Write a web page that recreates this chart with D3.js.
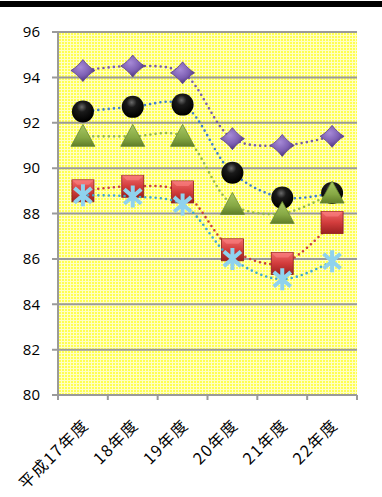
<!DOCTYPE html>
<html>
<head>
<meta charset="utf-8">
<script src="https://cdn.jsdelivr.net/npm/d3@7"></script>
<style>
  body { margin: 0; background: #fff; }
  svg { display: block; }
</style>
</head>
<body>
<div id="chart"></div>
<script>
// Line chart, 5 series with 3D-ish markers on a yellow grid background

const years = ["平成17年度", "18年度", "19年度", "20年度", "21年度", "22年度"];
const yTicks = [80, 82, 84, 86, 88, 90, 92, 94, 96];

const purple = [94.3, 94.5, 94.2, 91.3, 91.0, 91.4];
const black = [92.5, 92.7, 92.8, 89.8, 88.7, 88.9];
const green = [91.4, 91.4, 91.4, 88.4, 88.0, 88.9];
const red = [89.0, 89.2, 88.95, 86.4, 85.8, 87.6];
const cyan = [88.8, 88.75, 88.4, 86.0, 85.1, 85.9];

const series = [
  { name: "purple", values: purple, line: "#7a5ca8", marker: "diamond" },
  { name: "black", values: black, line: "#3f7fcf", marker: "circle" },
  { name: "green", values: green, line: "#94b84f", marker: "triangle" },
  { name: "red", values: red, line: "#c9403f", marker: "square" },
  { name: "cyan", values: cyan, line: "#40a9cf", marker: "star" }
];

const W = 382, H = 497;
const margin = { top: 32, right: 25, bottom: 102, left: 58 };

const svg = d3.select("#chart").append("svg")
  .attr("width", W)
  .attr("height", H);

// top black rule
svg.append("rect")
  .attr("x", 0).attr("y", 1)
  .attr("width", W).attr("height", 6)
  .attr("fill", "#000");

const defs = svg.append("defs");

// yellow graph-paper pattern
const pat = defs.append("pattern")
  .attr("id", "paper")
  .attr("width", 3).attr("height", 3)
  .attr("patternUnits", "userSpaceOnUse");
pat.append("rect").attr("width", 3).attr("height", 3).attr("fill", "#ffff50");
pat.append("rect").attr("width", 3).attr("height", 1).attr("fill", "#ffffc4");
pat.append("rect").attr("width", 1).attr("height", 3).attr("fill", "#ffffc4");

function linGrad(id, stops, x2 = 0, y2 = 1) {
  const g = defs.append("linearGradient").attr("id", id)
    .attr("x1", 0).attr("y1", 0).attr("x2", x2).attr("y2", y2);
  stops.forEach(([o, c]) => g.append("stop").attr("offset", o).attr("stop-color", c));
}
function radGrad(id, stops, cx = 0.4, cy = 0.35) {
  const g = defs.append("radialGradient").attr("id", id)
    .attr("cx", cx).attr("cy", cy).attr("r", 0.65);
  stops.forEach(([o, c]) => g.append("stop").attr("offset", o).attr("stop-color", c));
}
radGrad("gPurple", [[0, "#a68ad6"], [0.6, "#7d5fb3"], [1, "#4e3480"]]);
radGrad("gBlack", [[0, "#6a6a6a"], [0.35, "#1a1a1a"], [1, "#000"]], 0.45, 0.3);
linGrad("gGreen", [[0, "#a8c865"], [0.6, "#86a844"], [1, "#5f7d28"]]);
linGrad("gRed", [[0, "#f06a6a"], [0.5, "#d23c3c"], [1, "#9a2020"]]);

const w = W - margin.left - margin.right;
const h = H - margin.top - margin.bottom;

const plot = svg.append("g")
  .attr("transform", `translate(${margin.left},${margin.top})`);

const x = d3.scaleBand().domain(years).range([0, w]);
const y = d3.scaleLinear().domain([80, 96]).range([h, 0]);

plot.append("rect")
  .attr("width", w).attr("height", h)
  .attr("fill", "url(#paper)");

// gridlines
plot.selectAll(".grid")
  .data(yTicks)
  .join("line")
  .attr("class", "grid")
  .attr("x1", -6).attr("x2", w)
  .attr("y1", d => y(d)).attr("y2", d => y(d))
  .attr("stroke", "#9a9a9a")
  .attr("stroke-width", 2);

// y axis line
plot.append("line")
  .attr("x1", 0).attr("x2", 0)
  .attr("y1", 0).attr("y2", h)
  .attr("stroke", "#9a9a9a").attr("stroke-width", 2);

// x axis ticks
const xTicks = d3.range(years.length + 1).map(i => i * x.bandwidth());
plot.selectAll(".xtick")
  .data(xTicks)
  .join("line")
  .attr("class", "xtick")
  .attr("x1", d => d).attr("x2", d => d)
  .attr("y1", h).attr("y2", h + 5)
  .attr("stroke", "#9a9a9a").attr("stroke-width", 2);

// y labels
plot.selectAll(".ylab")
  .data(yTicks)
  .join("text")
  .attr("class", "ylab")
  .attr("x", -18)
  .attr("y", d => y(d))
  .attr("dy", "0.35em")
  .attr("text-anchor", "end")
  .style("font-family", "'Open Sans', 'Liberation Sans', sans-serif")
  .style("font-size", "15px")
  .text(d => d);

// x labels, rotated
plot.selectAll(".xlab")
  .data(years)
  .join("text")
  .attr("class", "xlab")
  .attr("text-anchor", "end")
  .attr("transform", d => `translate(${x(d) + x.bandwidth() / 2 + 7},${h + 31}) rotate(-45)`)
  .style("font-family", "'Noto Sans CJK JP', sans-serif")
  .style("font-size", "16px")
  .style("letter-spacing", "1.5px")
  .text(d => d);

const line = d3.line()
  .x((d, i) => x(years[i]) + x.bandwidth() / 2)
  .y(d => y(d))
  .curve(d3.curveCatmullRom.alpha(0.5));

function drawMarker(g, type) {
  if (type === "diamond") {
    g.append("path")
      .attr("d", "M0,-11 C4,-6 7,-3 12,0 C7,3 4,6 0,11 C-4,6 -7,3 -12,0 C-7,-3 -4,-6 0,-11Z")
      .attr("fill", "url(#gPurple)")
      .attr("stroke", "#5a3f8c").attr("stroke-width", 0.8);
  } else if (type === "circle") {
    g.append("circle").attr("r", 11)
      .attr("fill", "url(#gBlack)");
  } else if (type === "triangle") {
    g.append("path")
      .attr("d", "M0,-12 L12,10 L-12,10Z")
      .attr("fill", "url(#gGreen)")
      .attr("stroke", "#6a8a30").attr("stroke-width", 0.8)
      .attr("stroke-linejoin", "round");
  } else if (type === "square") {
    g.append("rect")
      .attr("x", -11).attr("y", -11)
      .attr("width", 22).attr("height", 22)
      .attr("fill", "url(#gRed)")
      .attr("stroke", "#8c1c1c").attr("stroke-width", 0.8);
    g.append("path")
      .attr("d", "M-11,-11 L11,-11 L6,-6 L-6,-6Z")
      .attr("fill", "#ff8a8a").attr("opacity", 0.5);
  } else if (type === "star") {
    g.append("path")
      .attr("d", "M0,-9 L0,9 M-7,-6 L7,6 M-7,6 L7,-6")
      .attr("stroke", "#8fd2ee")
      .attr("stroke-width", 4)
      .attr("stroke-linecap", "square")
      .attr("fill", "none");
  }
}

series.forEach(s => {
  const g = plot.append("g").attr("class", "series-" + s.name);

  g.append("path")
    .datum(s.values)
    .attr("d", line)
    .attr("fill", "none")
    .attr("stroke", s.line)
    .attr("stroke-width", 2.6)
    .attr("stroke-linecap", "round")
    .attr("stroke-dasharray", "0,5.2");

  g.selectAll(".mk")
    .data(s.values)
    .join("g")
    .attr("class", "mk")
    .attr("transform", (d, i) => `translate(${x(years[i]) + x.bandwidth() / 2},${y(d)})`)
    .each(function () { drawMarker(d3.select(this), s.marker); });
});
</script>
</body>
</html>
